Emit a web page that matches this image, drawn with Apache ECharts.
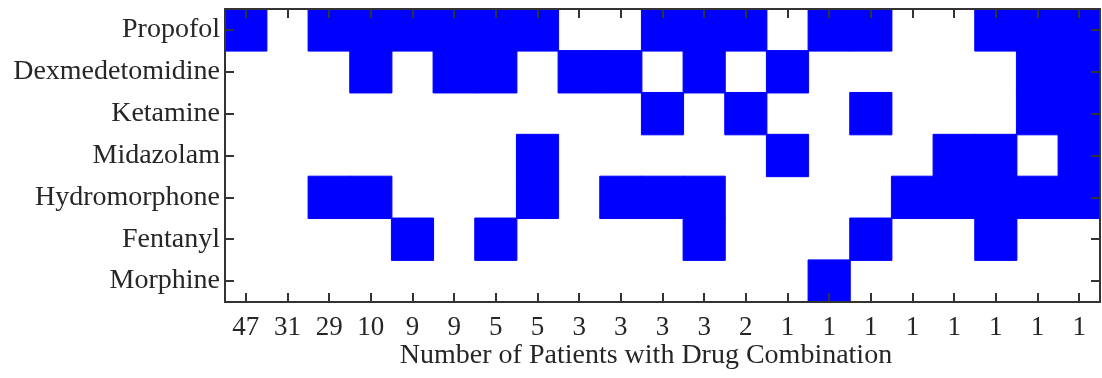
<!DOCTYPE html>
<html>
<head>
<meta charset="utf-8">
<script src="https://cdn.jsdelivr.net/npm/echarts@6/dist/echarts.min.js"></script>
<style>
  html, body { margin: 0; padding: 0; background: #ffffff; }
  #chart { width: 1102px; height: 378px; }
</style>
</head>
<body>
<div id="chart"></div>
<script>
// Patient counts for each drug combination (one column per combination)
const patientCounts = ['47', '31', '29', '10', '9', '9', '5', '5', '3', '3', '3', '3', '2', '1', '1', '1', '1', '1', '1', '1', '1'];

// Drugs, listed top to bottom
const drugs = ['Propofol', 'Dexmedetomidine', 'Ketamine', 'Midazolam', 'Hydromorphone', 'Fentanyl', 'Morphine'];

// 1 = drug is part of the combination in that column
const propofol      = [1,0,1,1,1,1,1,1,0,0,1,1,1,0,1,1,0,0,1,1,1];
const dexmed        = [0,0,0,1,0,1,1,0,1,1,0,1,0,1,0,0,0,0,0,1,1];
const ketamine      = [0,0,0,0,0,0,0,0,0,0,1,0,1,0,0,1,0,0,0,1,1];
const midazolam     = [0,0,0,0,0,0,0,1,0,0,0,0,0,1,0,0,0,1,1,0,1];
const hydromorphone = [0,0,1,1,0,0,0,1,0,1,1,1,0,0,0,0,1,1,1,1,1];
const fentanyl      = [0,0,0,0,1,0,1,0,0,0,0,1,0,0,0,1,0,0,1,0,0];
const morphine      = [0,0,0,0,0,0,0,0,0,0,0,0,0,0,1,0,0,0,0,0,0];

const rows = [propofol, dexmed, ketamine, midazolam, hydromorphone, fentanyl, morphine];

const cells = [];
rows.forEach((row, r) => {
  row.forEach((v, c) => {
    if (v) cells.push([c, r, v]);
  });
});

const FONT = '"Liberation Serif", "Times New Roman", serif';
const TEXT = '#262626';
const AXIS = '#333333';
const BLUE = '#0000ff';

const chart = echarts.init(document.getElementById('chart'), null, { renderer: 'canvas' });

const tickStyle = { show: true, inside: true, length: 9, alignWithLabel: true, lineStyle: { color: AXIS, width: 2 } };
const lineStyle = { show: true, onZero: false, lineStyle: { color: AXIS, width: 2 } };

// axes live on their own layer so the box and ticks sit on top of the cells
chart.setOption({
  animation: false,
  backgroundColor: '#ffffff',
  grid: { left: 225, right: 2, top: 9, bottom: 76, containLabel: false },
  xAxis: [
    {
      type: 'category', position: 'bottom', data: patientCounts, zlevel: 1, z: 10,
      axisLine: lineStyle, axisTick: tickStyle,
      axisLabel: { interval: 0, margin: 12, fontFamily: FONT, fontSize: 27, color: TEXT },
      splitLine: { show: false }
    },
    {
      type: 'category', position: 'top', data: patientCounts, zlevel: 1, z: 10,
      axisLine: lineStyle, axisTick: tickStyle,
      axisLabel: { show: false }, splitLine: { show: false }
    }
  ],
  yAxis: [
    {
      type: 'category', position: 'left', data: drugs, inverse: true, zlevel: 1, z: 10,
      axisLine: lineStyle, axisTick: tickStyle,
      axisLabel: { interval: 0, margin: 5, fontFamily: FONT, fontSize: 28, color: TEXT },
      splitLine: { show: false }
    },
    {
      type: 'category', position: 'right', data: drugs, inverse: true, zlevel: 1, z: 10,
      axisLine: lineStyle, axisTick: tickStyle,
      axisLabel: { show: false }, splitLine: { show: false }
    }
  ],
  visualMap: {
    show: false, type: 'piecewise', dimension: 2,
    pieces: [{ value: 1, color: BLUE }, { value: 0, color: '#ffffff' }]
  },
  graphic: [{
    type: 'text', x: 646, y: 342,
    style: {
      text: 'Number of Patients with Drug Combination',
      fontFamily: FONT, fontSize: 28, fill: TEXT, align: 'center', verticalAlign: 'top'
    }
  }],
  series: [{
    type: 'heatmap', xAxisIndex: 0, yAxisIndex: 0, z: 1,
    data: cells,
    itemStyle: { borderColor: BLUE, borderWidth: 1 },
    emphasis: { disabled: true }
  }]
});
</script>
</body>
</html>
